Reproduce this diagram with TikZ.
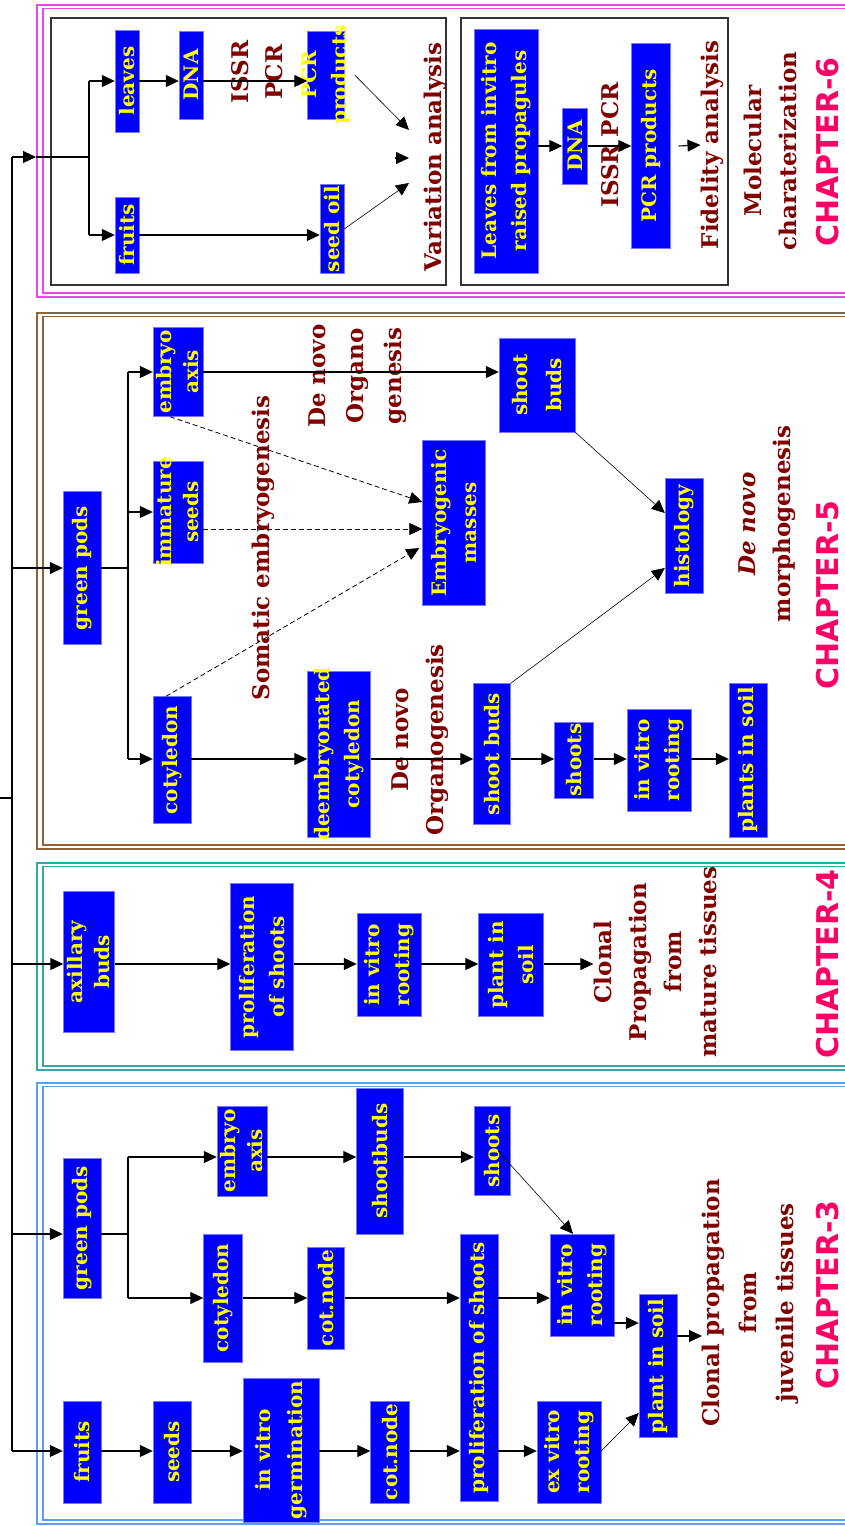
\documentclass[tikz,border=0pt]{standalone}
\usepackage{fontspec}
\usepackage{graphicx}
\usetikzlibrary{arrows.meta, positioning}
\newfontfamily\serifbf{DejaVu Serif}
\newfontfamily\chapsans{DejaVu Sans}
\definecolor{boxblue}{RGB}{0,0,255}
\definecolor{boxedge}{RGB}{120,120,255}
\definecolor{boxtext}{RGB}{255,255,0}
\definecolor{lblred}{RGB}{128,0,0}
\definecolor{chappink}{RGB}{255,0,102}
\definecolor{fr6}{RGB}{240,70,230}
\definecolor{fr5}{RGB}{140,100,60}
\definecolor{fr4}{RGB}{50,170,170}
\definecolor{fr3}{RGB}{90,160,240}

\begin{document}
\begin{tikzpicture}[x=1pt, y=-1pt,
    blk/.style 2 args={draw=boxedge, fill=boxblue, minimum width=#1pt, minimum height=#2pt, inner sep=0pt},
    vt/.style={rotate=90, align=center, text=boxtext, inner sep=0pt, font=\serifbf\bfseries\fontsize{20}{30}\selectfont},
    lbl/.style={rotate=90, align=center, text=lblred, inner sep=0pt, font=\serifbf\bfseries\fontsize{23}{35}\selectfont},
    chap/.style={rotate=90, inner sep=0pt, text=chappink, font=\chapsans\bfseries\fontsize{30}{36}\selectfont},
    ln/.style={line width=1.1pt},
    arr/.style={ln, -{Triangle[length=13pt, width=12pt]}},
    thinarr/.style={line width=0.6pt, -{Triangle[length=13pt, width=12pt]}},
    darr/.style={line width=0.8pt, dash pattern=on 5pt off 3pt, -{Triangle[length=13pt, width=12pt]}}
  ]
  \useasboundingbox (0,0) rectangle (844,1526);

  % chapter frames
  \foreach \ya/\yb/\fc in {5/297/fr6, 313/849/fr5, 863/1070/fr4, 1083/1524/fr3}{
    \draw[\fc, line width=1.3pt] (37,\ya) rectangle (900,\yb);
    \draw[\fc, line width=1.3pt] (43,\ya+3.5) rectangle (900,\yb-4);
  }
  \draw[line width=1.2pt, black!80] (51,18) rectangle (446,285);
  \draw[line width=1.2pt, black!80] (461,18) rectangle (728,285);

  % trunk
  \coordinate (tin) at (0,798);
  \coordinate (tjoin) at (12,798);
  \coordinate (t6) at (12,157);
  \coordinate (t5) at (12,568);
  \coordinate (t4) at (12,964);
  \coordinate (t3a) at (12,1234);
  \coordinate (t3b) at (12,1451);
  \draw[ln] (t6) -- (t3b);
  \draw[ln] (tin) -- (tjoin);

  % CHAPTER-6
  \node[blk={24}{102}, label={[vt]center:leaves}] (v_leaves) at (127,81) {};
  \node[blk={24}{88}, label={[vt]center:DNA}] (v_dna) at (191,75) {};
  \node[lbl] (v_issr) at (257,72) {ISSR\\[-1pt]PCR};
  \node[blk={37}{88}, label={[vt]center:PCR\\products}] (v_pcr) at (326,75) {};
  \node[blk={24}{76}, label={[vt]center:fruits}] (v_fruits) at (127,235) {};
  \node[blk={24}{89}, label={[vt]center:seed oil}] (v_oil) at (332,229) {};
  \node[lbl] (v_ana) at (435,157) {Variation analysis};
  \coordinate (s6m) at (36,157);
  \coordinate (s6) at (89,157);
  \coordinate (v_in1) at (409,130);
  \coordinate (v_in0a) at (395,158);
  \coordinate (v_in0) at (409,158);
  \coordinate (v_in2) at (409,183);
  \draw[arr] (t6) -- (s6m);
  \draw[ln] (s6m) -- (s6);
  \draw[ln] (s6 |- v_leaves) -- (s6 |- v_fruits);
  \draw[arr] (s6 |- v_leaves) -- (v_leaves.west);
  \draw[arr] (s6 |- v_fruits) -- (v_fruits.west);
  \draw[arr] (v_leaves.east) -- (v_leaves.east -| v_dna.west);
  \draw[arr] (v_leaves.east -| v_dna.east) -- (v_leaves.east -| v_pcr.west);
  \draw[arr] (v_fruits.east) -- (v_fruits.east -| v_oil.west);
  \draw[thinarr] ([xshift=10pt]v_pcr.east) -- (v_in1);
  \draw[arr] (v_in0a) -- (v_in0);
  \draw[thinarr] (v_oil.east) -- (v_in2);

  \node[blk={64}{244}, label={[vt]center:Leaves from invitro\\raised propagules}] (f_leaves) at (506,151) {};
  \node[blk={25}{76}, label={[vt]center:DNA}] (f_dna) at (575,146) {};
  \node[lbl] (f_issr) at (610,145) {ISSR PCR};
  \node[blk={39}{205}, label={[vt]center:PCR products}] (f_pcr) at (651,146) {};
  \node[lbl] (f_ana) at (712,145) {Fidelity analysis};
  \draw[arr] (f_leaves.east |- f_dna) -- (f_dna.west);
  \draw[arr] (f_dna.east) -- (f_pcr.west);
  \draw[arr] ([xshift=8pt]f_pcr.east) -- (f_ana.north);
  \node[lbl] (mol) at (770,151) {Molecular\\charaterization};
  \node[chap] (ch6) at (828,152) {CHAPTER-6};

  % CHAPTER-5
  \node[blk={38}{153}, label={[vt]center:green pods}] (m_pods) at (82,568) {};
  \node[blk={50}{89}, label={[vt]center:embryo\\[-3pt]axis}] (m_emb) at (178,372) {};
  \node[blk={50}{102}, label={[vt]center:immature\\[-3pt]seeds}] (m_imm) at (178,512) {};
  \node[blk={38}{127}, label={[vt]center:cotyledon}] (m_cot) at (172,760) {};
  \node[blk={63}{166}, label={[vt]center:deembryonated\\cotyledon}] (m_deemb) at (339,754) {};
  \node[blk={76}{94}, label={[vt]center:shoot\\[4pt]buds}] (m_sb1) at (537,385) {};
  \node[blk={63}{165}, label={[vt]center:Embryogenic\\masses}] (m_emm) at (454,523) {};
  \node[blk={38}{115}, label={[vt]center:histology}] (m_hist) at (684,536) {};
  \node[blk={37}{141}, label={[vt]center:shoot buds}] (m_sb2) at (492,754) {};
  \node[blk={39}{76}, label={[vt]center:shoots}] (m_shoots) at (574,760) {};
  \node[blk={64}{102}, label={[vt]center:in vitro\\rooting}] (m_ivr) at (659,760) {};
  \node[blk={38}{154}, label={[vt]center:plants in soil}] (m_soil) at (748,760) {};
  \node[lbl] (m_som) at (263,548) {Somatic embryogenesis};
  \node[lbl] (m_dno1) at (358,376) {De novo\\[3pt]Organo\\[3pt]genesis};
  \node[lbl] (m_dno2) at (420,740) {De novo\\Organogenesis};
  \node[lbl] (m_morph) at (767,524) {\textit{De novo}\\morphogenesis};
  \node[chap] (ch5) at (828,595) {CHAPTER-5};
  \coordinate (s5) at (128,568);
  \coordinate (r5) at (0,759);
  \draw[arr] (t5) -- (m_pods.west);
  \draw[ln] (m_pods.east) -- (s5);
  \draw[ln] (s5 |- m_emb) -- (s5 |- r5);
  \draw[arr] (s5 |- m_emb) -- (m_emb.west);
  \draw[arr] (s5 |- m_imm) -- (m_imm.west);
  \draw[arr] (s5 |- r5) -- (m_cot.west |- r5);
  \draw[arr] (m_emb.east) -- (m_emb.east -| m_sb1.west);
  \draw[darr] ([xshift=-8pt]m_emb.south) -- (m_emm.west |- 0,502);
  \draw[darr] (m_imm.east |- 0,529) -- (m_emm.west |- 0,529);
  \draw[darr] ([xshift=-6pt]m_cot.north) -- ([xshift=-3pt]m_emm.west |- 0,548);
  \draw[arr] (m_cot.east |- r5) -- (m_deemb.west |- r5);
  \draw[arr] (m_deemb.east |- r5) -- (m_sb2.west |- r5);
  \draw[arr] (m_sb2.east |- r5) -- (m_shoots.west |- r5);
  \draw[arr] (m_shoots.east |- r5) -- (m_ivr.west |- r5);
  \draw[arr] (m_ivr.east |- r5) -- (m_soil.west |- r5);
  \draw[thinarr] (m_sb1.south east) -- (m_hist.west |- 0,513);
  \draw[thinarr] (m_sb2.north east) -- (m_hist.west |- 0,568);

  % CHAPTER-4
  \coordinate (r4) at (0,964);
  \node[blk={51}{141}, label={[vt]center:axillary\\[-3pt]buds}] (c4_ax) at (89,962) {};
  \node[blk={63}{167}, label={[vt]center:proliferation\\of shoots}] (c4_pro) at (262,967) {};
  \node[blk={64}{103}, label={[vt]center:in vitro\\rooting}] (c4_ivr) at (389,965) {};
  \node[blk={65}{103}, label={[vt]center:plant in\\soil}] (c4_soil) at (511,965) {};
  \node[lbl] (c4_txt) at (655,962) {Clonal\\Propagation\\from\\mature tissues};
  \node[chap] (ch4) at (828,964) {CHAPTER-4};
  \draw[arr] (t4) -- (c4_ax.west |- r4);
  \draw[arr] (c4_ax.east |- r4) -- (c4_pro.west |- r4);
  \draw[arr] (c4_pro.east |- r4) -- (c4_ivr.west |- r4);
  \draw[arr] (c4_ivr.east |- r4) -- (c4_soil.west |- r4);
  \draw[arr] (c4_soil.east |- r4) -- (c4_txt.north |- r4);

  % CHAPTER-3
  \coordinate (s3) at (128,1234);
  \coordinate (r3a) at (0,1157);
  \coordinate (r3b) at (0,1298);
  \coordinate (r3c) at (0,1451);
  \node[blk={38}{140}, label={[vt]center:green pods}] (c3_pods) at (82,1228) {};
  \node[blk={50}{90}, label={[vt]center:embryo\\[-3pt]axis}] (c3_emb) at (242,1151) {};
  \node[blk={47}{146}, label={[vt]center:shootbuds}] (c3_sb) at (380,1161) {};
  \node[blk={36}{89}, label={[vt]center:shoots}] (c3_sh) at (492,1151) {};
  \node[blk={39}{128}, label={[vt]center:cotyledon}] (c3_cot) at (223,1298) {};
  \node[blk={37}{102}, label={[vt]center:cot.node}] (c3_cn1) at (326,1298) {};
  \node[blk={38}{267}, label={[vt]center:proliferation of shoots}] (c3_pro) at (479,1368) {};
  \node[blk={64}{102}, label={[vt]center:in vitro\\rooting}] (c3_ivr) at (582,1285) {};
  \node[blk={38}{143}, label={[vt]center:plant in soil}] (c3_soil) at (658,1366) {};
  \node[blk={38}{102}, label={[vt]center:fruits}] (c3_fruits) at (82,1452) {};
  \node[blk={38}{102}, label={[vt]center:seeds}] (c3_seeds) at (172,1452) {};
  \node[blk={76}{144}, label={[vt]center:in vitro\\[2pt]germination}] (c3_ivg) at (281,1450) {};
  \node[blk={39}{102}, label={[vt]center:cot.node}] (c3_cn2) at (390,1452) {};
  \node[blk={64}{102}, label={[vt]center:ex vitro\\rooting}] (c3_evr) at (569,1452) {};
  \node[lbl] (c3_txt) at (750,1303) {Clonal propagation\\[2pt]from\\[2pt]juvenile tissues};
  \node[chap] (ch3) at (828,1295) {CHAPTER-3};
  \coordinate (c3_end) at (702,1336);
  \draw[arr] (t3a) -- (c3_pods.west |- t3a);
  \draw[ln] (c3_pods.east |- t3a) -- (s3);
  \draw[ln] (s3 |- r3a) -- (s3 |- r3b);
  \draw[arr] (s3 |- r3a) -- (c3_emb.west |- r3a);
  \draw[arr] (c3_emb.east |- r3a) -- (c3_sb.west |- r3a);
  \draw[arr] (c3_sb.east |- r3a) -- (c3_sh.west |- r3a);
  \draw[thinarr] ([xshift=6pt]c3_sh.center) -- ([xshift=-9pt]c3_ivr.north);
  \draw[arr] (s3 |- r3b) -- (c3_cot.west |- r3b);
  \draw[arr] (c3_cot.east |- r3b) -- (c3_cn1.west |- r3b);
  \draw[arr] (c3_cn1.east |- r3b) -- (c3_pro.west |- r3b);
  \draw[arr] (c3_pro.east |- r3b) -- (c3_ivr.west |- r3b);
  \draw[arr] (c3_ivr.east |- 0,1323) -- (c3_soil.west |- 0,1323);
  \draw[arr] (c3_soil.east |- c3_end) -- (c3_end);
  \draw[arr] (t3b) -- (c3_fruits.west |- r3c);
  \draw[arr] (c3_fruits.east |- r3c) -- (c3_seeds.west |- r3c);
  \draw[arr] (c3_seeds.east |- r3c) -- (c3_ivg.west |- r3c);
  \draw[arr] (c3_ivg.east |- r3c) -- (c3_cn2.west |- r3c);
  \draw[arr] (c3_cn2.east |- r3c) -- (c3_pro.west |- r3c);
  \draw[arr] (c3_pro.east |- r3c) -- (c3_evr.west |- r3c);
  \draw[thinarr] (c3_evr.east |- r3c) -- (c3_soil.west |- 0,1413);
\end{tikzpicture}
\end{document}
